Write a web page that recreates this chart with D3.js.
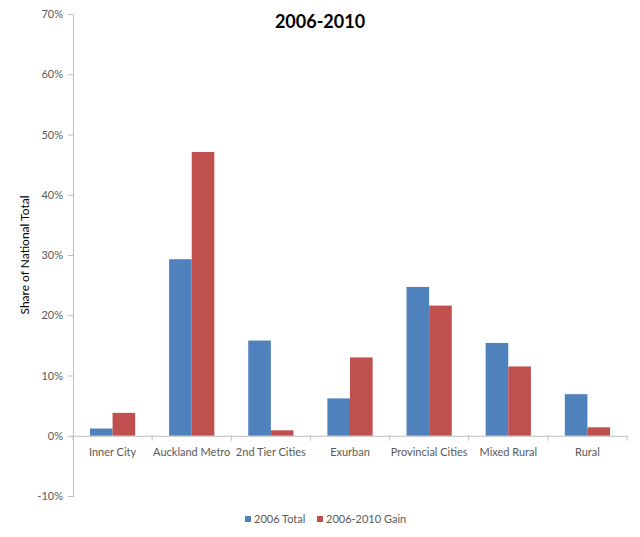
<!DOCTYPE html>
<html>
<head>
<meta charset="utf-8">
<script src="https://cdn.jsdelivr.net/npm/d3@7"></script>
<style>
  body { margin: 0; background: #fff; }
  text { font-family: Lato, "Open Sans", sans-serif; }
</style>
</head>
<body>
<div id="chart"></div>
<script>
// data
var categories = ["Inner City", "Auckland Metro", "2nd Tier Cities", "Exurban", "Provincial Cities", "Mixed Rural", "Rural"];
var seriesNames = ["2006 Total", "2006-2010 Gain"];
var total2006 = [1.2, 29.3, 15.8, 6.2, 24.7, 15.4, 6.9];
var gain0610 = [3.8, 47.1, 0.9, 13.0, 21.6, 11.5, 1.4];
var yTicks = [-10, 0, 10, 20, 30, 40, 50, 60, 70];
var colors = ["#4f81bd", "#c0504d"];

function drawChart() {
    var width = 640, height = 537;
    var plotLeft = 73, plotRight = 627, plotTop = 14, plotBottom = 496;

    var svg = d3.select("#chart").append("svg")
        .attr("width", width)
        .attr("height", height);

    var y = d3.scaleLinear().domain([-10, 70]).range([plotBottom, plotTop]);
    var x0 = d3.scaleBand().domain(categories).range([plotLeft, plotRight]).paddingInner(0);
    // bars take 45 of ~79px per category (gap width 150%)
    var x1 = d3.scaleBand().domain(seriesNames).range([0, x0.bandwidth()]).paddingOuter(0.75).paddingInner(0);

    // y axis
    var yAxis = d3.axisLeft(y).tickValues(yTicks).tickSize(5).tickPadding(5)
        .tickFormat(function(d){ return d + "%"; });
    var ya = svg.append("g").attr("transform", "translate(" + plotLeft + ",0)").call(yAxis);
    ya.select(".domain").attr("stroke", "#bfbfbf");
    ya.selectAll(".tick line").attr("stroke", "#bfbfbf");
    ya.selectAll(".tick text").attr("fill", "#595959").attr("font-size", "11px");

    // bars
    var rows = categories.map(function(c, i){
        return { cat: c, vals: [total2006[i], gain0610[i]] };
    });
    var groups = svg.selectAll(".grp")
        .data(rows)
        .join("g")
        .attr("class", "grp")
        .attr("transform", function(d){ return "translate(" + x0(d.cat) + ",0)"; });
    groups.selectAll("rect")
        .data(function(d){ return d.vals.map(function(v, j){ return { s: seriesNames[j], v: v, j: j }; }); })
        .join("rect")
        .attr("x", function(d){ return x1(d.s); })
        .attr("width", x1.bandwidth())
        .attr("y", function(d){ return y(Math.max(0, d.v)); })
        .attr("height", function(d){ return Math.abs(y(d.v) - y(0)); })
        .attr("fill", function(d){ return colors[d.j]; });

    // x axis at zero
    var xAxis = d3.axisBottom(x0).tickSize(0).tickPadding(12);
    var xa = svg.append("g").attr("transform", "translate(0," + y(0) + ")").call(xAxis);
    xa.select(".domain").attr("stroke", "#bfbfbf");
    xa.selectAll(".tick text").attr("fill", "#595959").attr("font-size", "11px");
    // category separators
    var sep = categories.map(function(c){ return x0(c) + x0.bandwidth(); });
    sep.unshift(plotLeft);
    xa.selectAll(".sep")
        .data(sep)
        .join("line")
        .attr("class", "sep")
        .attr("x1", function(d){ return d; })
        .attr("x2", function(d){ return d; })
        .attr("y1", 0)
        .attr("y2", 5)
        .attr("stroke", "#bfbfbf");

    // title
    svg.append("text")
        .attr("x", 320)
        .attr("y", 28)
        .attr("text-anchor", "middle")
        .attr("font-size", "18px")
        .attr("font-weight", "bold")
        .text("2006-2010");

    // y label
    svg.append("text")
        .attr("transform", "translate(29,255) rotate(-90)")
        .attr("text-anchor", "middle")
        .attr("font-size", "12px")
        .text("Share of National Total");

    // legend
    var legendX = [245, 317];
    var legend = svg.selectAll(".leg")
        .data(seriesNames)
        .join("g")
        .attr("class", "leg")
        .attr("transform", function(d, i){ return "translate(" + legendX[i] + ",516)"; });
    legend.append("rect")
        .attr("width", 6)
        .attr("height", 6)
        .attr("fill", function(d, i){ return colors[i]; });
    legend.append("text")
        .attr("x", 9)
        .attr("y", 7)
        .attr("font-size", "11px")
        .attr("fill", "#595959")
        .text(function(d){ return d; });
}

drawChart();
</script>
</body>
</html>
